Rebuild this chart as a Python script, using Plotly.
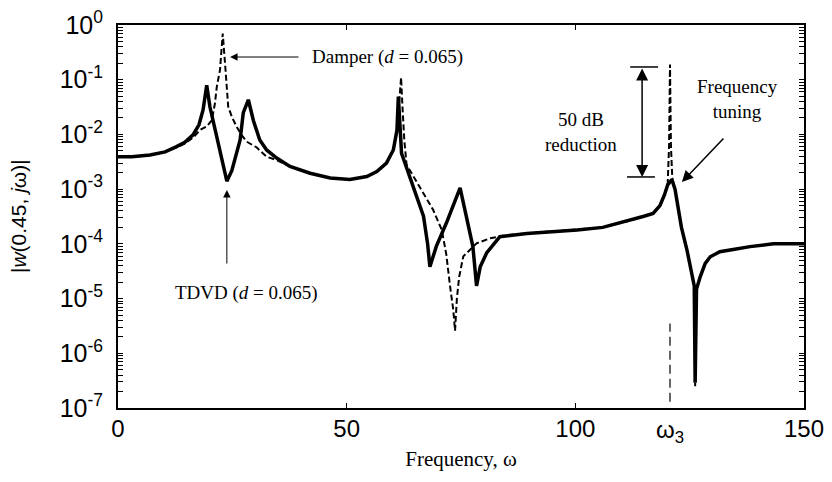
import math
import plotly.graph_objects as go

# ---- data ----
omega_tdvd = [0, 3, 7, 10.3, 12.8, 14.6, 16.4, 17.7, 18.6, 19.4, 20.1, 21.6, 23.0, 23.8, 24.9,
              26.7, 27.4, 28.5, 29.6, 31.0, 32.5, 34.7, 37.6, 42.0, 46.4, 50.7, 54.4, 56.6, 58.7,
              60.2, 61.0, 61.3, 62.0, 64.6, 66.8, 67.7, 68.2, 69.6, 71.8, 74.8, 76.2, 77.6, 78.4,
              79.2, 80.6, 83.5, 89.4, 95.0, 100.4, 106.0, 112.6, 115.0, 117.0, 118.5, 119.5,
              120.2, 121.1, 121.8, 122.2, 123.2, 124.4, 125.4, 126.0, 126.2, 126.5, 127.3, 128.4,
              129.5, 131.6, 134.5, 138.2, 143.3, 150.0]
resp_tdvd = [3.9e-3, 3.9e-3, 4.2e-3, 4.8e-3, 6.0e-3, 7.2e-3, 9.8e-3, 1.5e-2, 2.8e-2, 7.9e-2,
             3.2e-2, 9.1e-3, 2.6e-3, 1.4e-3, 2.2e-3, 7.9e-3, 2.5e-2, 4.3e-2, 1.8e-2, 7.9e-3,
             5.2e-3, 3.7e-3, 2.6e-3, 1.95e-3, 1.6e-3, 1.5e-3, 1.7e-3, 2.1e-3, 3.0e-3, 5.2e-3,
             1.2e-2, 4.9e-2, 4.5e-3, 1.1e-3, 3.2e-4, 1.0e-4, 3.8e-5, 9.0e-5, 2.4e-4, 1.05e-3,
             3.2e-4, 8.9e-5, 1.7e-5, 3.8e-5, 6.8e-5, 1.35e-4, 1.55e-4, 1.65e-4, 1.8e-4, 2.0e-4,
             2.75e-4, 3.2e-4, 3.6e-4, 5.0e-4, 7.9e-4, 1.2e-3, 1.5e-3, 1.0e-3, 6.3e-4, 2.0e-4,
             7.8e-5, 2.9e-5, 1.7e-5, 2.9e-7, 1.5e-5, 2.5e-5, 4.4e-5, 5.8e-5, 7.2e-5, 7.9e-5,
             8.9e-5, 1.0e-4, 1.0e-4]

omega_damper = [0, 3, 7, 10.3, 12.8, 14.6, 16.4, 17.9, 19.4, 20.5, 21.2, 21.6, 22.3, 22.9, 23.4,
                23.8, 24.1, 24.9, 25.9, 27.0, 28.1, 30.3, 32.5, 34.7, 37.6, 42.0, 46.4, 50.7, 54.4,
                56.6, 58.7, 60.2, 61.0, 61.5, 61.9, 62.2, 62.6, 63.1, 66.0, 68.9, 70.8, 71.8, 72.6,
                73.3, 73.7, 74.1, 74.6, 75.5, 78.4, 81.3, 85.0, 89.4, 95.0, 100.4, 106.0, 112.6,
                115.0, 117.0, 118.5, 119.5, 120.2, 120.5, 120.7, 120.9, 121.2, 121.8, 122.2, 123.2,
                124.4, 125.4, 126.0, 126.2, 126.5, 127.3, 128.4, 129.5, 131.6, 134.5, 138.2, 143.3,
                150.0]
resp_damper = [3.9e-3, 3.9e-3, 4.2e-3, 4.8e-3, 5.8e-3, 6.8e-3, 8.7e-3, 1.2e-2, 1.4e-2, 1.8e-2,
               3.7e-2, 7.4e-2, 0.15, 0.70, 0.20, 7.4e-2, 3.2e-2, 2.1e-2, 1.4e-2, 9.8e-3, 7.4e-3,
               5.8e-3, 3.9e-3, 3.4e-3, 2.6e-3, 1.95e-3, 1.6e-3, 1.5e-3, 1.7e-3, 2.1e-3, 3.0e-3,
               5.2e-3, 1.2e-2, 4.0e-2, 0.11, 3.2e-2, 7.9e-3, 2.8e-3, 1.1e-3, 4.2e-4, 1.8e-4,
               6.3e-5, 1.7e-5, 6.3e-6, 2.6e-6, 1.0e-5, 2.5e-5, 5.9e-5, 1.02e-4, 1.26e-4, 1.45e-4,
               1.55e-4, 1.65e-4, 1.8e-4, 2.0e-4, 2.75e-4, 3.2e-4, 3.6e-4, 5.0e-4, 7.9e-4, 1.3e-3,
               6.3e-3, 0.19, 6.3e-3, 1.6e-3, 1.0e-3, 6.3e-4, 2.0e-4, 7.8e-5, 2.9e-5, 1.7e-5,
               2.5e-7, 1.5e-5, 2.5e-5, 4.4e-5, 5.8e-5, 7.2e-5, 7.9e-5, 8.9e-5, 1.0e-4, 1.0e-4]

omega_3 = 120.7
omega3_marker_y = [1.3e-7, 3.5e-6]

x_tick_vals = [0, 50, 100, 150]
x_tick_text = ["0", "50", "100", "150"]
y_decades = [1e-7, 1e-6, 1e-5, 1e-4, 1e-3, 1e-2, 1e-1, 1e0]
y_tick_text = ["10<sup>-7</sup>", "10<sup>-6</sup>", "10<sup>-5</sup>", "10<sup>-4</sup>",
               "10<sup>-3</sup>", "10<sup>-2</sup>", "10<sup>-1</sup>", "10<sup>0</sup>"]

# 50 dB reduction bracket
bracket_omega = 114.6
bracket_top = 0.171
bracket_bottom = 1.67e-3
bar_top_x = [112.0, 118.1]
bar_bottom_x = [111.3, 117.4]

# y ticks: decades labelled, intermediate (2..9) unlabelled
y_tick_all = []
y_tick_all_text = []
for i, d in enumerate(y_decades):
    y_tick_all.append(d)
    y_tick_all_text.append(y_tick_text[i])
    if i < len(y_decades) - 1:
        for k in range(2, 10):
            y_tick_all.append(k * d)
            y_tick_all_text.append("")

SERIF = "Liberation Serif, Times New Roman, serif"
SANS = "Liberation Sans, Arial, sans-serif"
lg = math.log10

fig = go.Figure()

fig.add_trace(go.Scatter(x=omega_damper, y=resp_damper, mode="lines",
                         line=dict(color="black", width=2, dash="6px,3px"), showlegend=False))
fig.add_trace(go.Scatter(x=omega_tdvd, y=resp_tdvd, mode="lines",
                         line=dict(color="black", width=3.5), showlegend=False))
fig.add_trace(go.Scatter(x=[omega_3, omega_3], y=omega3_marker_y, mode="lines",
                         line=dict(color="black", width=1.2, dash="9px,5px"), showlegend=False))
fig.add_trace(go.Scatter(x=bar_top_x, y=[bracket_top, bracket_top], mode="lines",
                         line=dict(color="black", width=1.5), showlegend=False))
fig.add_trace(go.Scatter(x=bar_bottom_x, y=[bracket_bottom, bracket_bottom], mode="lines",
                         line=dict(color="black", width=1.5), showlegend=False))

annots = []
annots.append(dict(x=bracket_omega, y=lg(bracket_bottom), ax=bracket_omega, ay=lg(bracket_top),
                   xref="x", yref="y", axref="x", ayref="y", text="", showarrow=True,
                   arrowhead=2, arrowside="end+start", arrowsize=1.6, arrowwidth=1.5, arrowcolor="black"))
annots.append(dict(x=24.5, y=lg(0.26), ax=39.8, ay=lg(0.26), xref="x", yref="y", axref="x", ayref="y",
                   text="", showarrow=True, arrowhead=2, arrowsize=1.5, arrowwidth=1, arrowcolor="black"))
annots.append(dict(x=42.0, y=lg(0.26), xref="x", yref="y", text="Damper (<i>d</i> = 0.065)",
                   showarrow=False, xanchor="left", yanchor="middle",
                   font=dict(family=SERIF, size=19, color="black")))
annots.append(dict(x=23.8, y=lg(9.6e-4), ax=23.8, ay=lg(4.1e-5), xref="x", yref="y", axref="x", ayref="y",
                   text="", showarrow=True, arrowhead=2, arrowsize=1.5, arrowwidth=1, arrowcolor="black"))
annots.append(dict(x=28.1, y=lg(1.26e-5), xref="x", yref="y", text="TDVD (<i>d</i> = 0.065)",
                   showarrow=False, xanchor="center", yanchor="middle",
                   font=dict(family=SERIF, size=19, color="black")))
annots.append(dict(x=101.2, y=lg(0.011), xref="x", yref="y", text="50 dB<br>reduction",
                   showarrow=False, xanchor="center", yanchor="middle",
                   font=dict(family=SERIF, size=19, color="black")))
annots.append(dict(x=135.4, y=lg(0.045), xref="x", yref="y", text="Frequency<br>tuning",
                   showarrow=False, xanchor="center", yanchor="middle",
                   font=dict(family=SERIF, size=19, color="black")))
annots.append(dict(x=123.3, y=lg(1.35e-3), ax=132.7, ay=lg(8.97e-3), xref="x", yref="y", axref="x", ayref="y",
                   text="", showarrow=True, arrowhead=2, arrowsize=1.5, arrowwidth=1.5, arrowcolor="black"))
annots.append(dict(x=omega_3, y=0, xref="x", yref="paper", yshift=-23, text="ω<sub>3</sub>",
                   showarrow=False, xanchor="center", yanchor="middle",
                   font=dict(family=SANS, size=24, color="black")))
annots.append(dict(x=-0.145, y=0.5, xref="paper", yref="paper", text="|<i>w</i>(0.45, <i>j</i>ω)|",
                   textangle=-90, showarrow=False, xanchor="center", yanchor="middle",
                   font=dict(family=SANS, size=21, color="black")))

# the page body adds an 8px offset, so the figure is sized/margined to keep the plot area in place
fig.update_layout(
    width=824, height=474,
    margin=dict(l=110, r=28, t=17, b=74),
    paper_bgcolor="white", plot_bgcolor="white",
    annotations=annots,
    xaxis=dict(range=[0, 150], tickvals=x_tick_vals, ticktext=x_tick_text, automargin=False,
               ticks="inside", ticklen=5, tickwidth=1, tickcolor="black",
               showline=True, linewidth=2, linecolor="black", mirror="ticks",
               showgrid=False, zeroline=False, ticklabelstandoff=-2, ticklabeloverflow="allow",
               tickfont=dict(family=SANS, size=24, color="black"),
               title=dict(text="Frequency, ω", font=dict(family=SERIF, size=21, color="black"), standoff=11)),
    yaxis=dict(type="log", range=[-7, 0], tickvals=y_tick_all, ticktext=y_tick_all_text, automargin=False,
               ticks="inside", ticklen=5, tickwidth=1.2, tickcolor="black",
               showline=True, linewidth=2, linecolor="black", mirror="ticks",
               showgrid=False, zeroline=False, ticklabelstandoff=8, ticklabeloverflow="allow",
               tickfont=dict(family=SANS, size=25, color="black")),
)

fig.write_html("out.html")
